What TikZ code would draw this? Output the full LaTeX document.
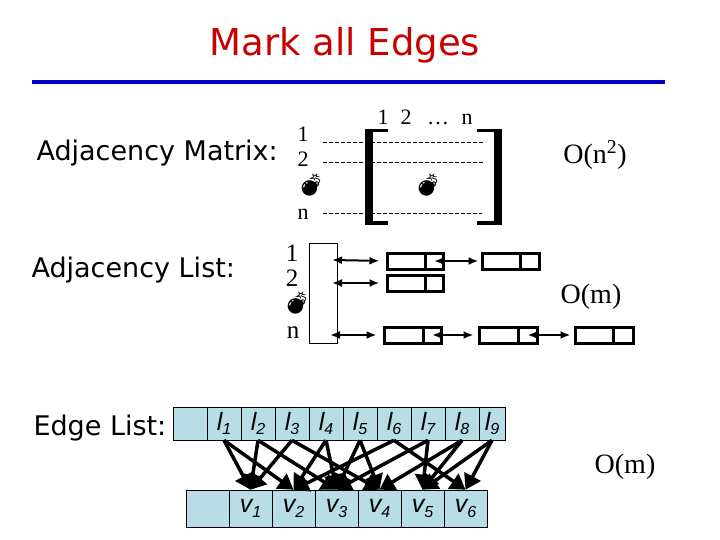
\documentclass[tikz,border=0pt]{standalone}
\usepackage{fontspec}
\setmainfont{Liberation Serif}
\setsansfont{DejaVu Sans}
\newfontfamily\arialfont{Liberation Sans}
\newfontfamily\emojifont{Noto Emoji}
\usetikzlibrary{arrows.meta,positioning}
\definecolor{titlered}{RGB}{200,0,0}
\definecolor{ruleblue}{RGB}{0,0,200}
\definecolor{cellblue}{RGB}{183,221,230}
\newcommand{\bomb}{{\emojifont\fontsize{22}{22}\selectfont 💣}}
\newcommand{\lsub}[2]{#1\raisebox{-0.35ex}{\fontsize{16}{16}\selectfont #2}}
\tikzset{
  heading/.style={anchor=west, font=\sffamily\fontsize{27}{30}\selectfont},
  idx/.style={inner sep=0pt, anchor=base, font=\fontsize{22}{24}\selectfont},
  lidx/.style={inner sep=0pt, font=\fontsize{25}{27}\selectfont},
  cost/.style={inner sep=0pt, font=\fontsize{28}{30}\selectfont},
  mdash/.style={line width=0.9pt, dash pattern=on 4pt off 2pt},
  lnode/.style={draw, line width=3pt, minimum height=16pt, inner sep=0pt},
  dlink/.style={line width=2pt, {Latex[length=10pt,width=8pt]}-{Latex[length=10pt,width=8pt]}},
  ecell/.style={draw, line width=0.6pt, fill=cellblue, minimum width=34pt, minimum height=33pt, inner sep=0pt, font=\arialfont\itshape\fontsize{25}{27}\selectfont},
  vcell/.style={draw, line width=0.6pt, fill=cellblue, minimum width=43pt, minimum height=37pt, inner sep=0pt, font=\arialfont\itshape\fontsize{25}{27}\selectfont},
  incid/.style={line width=3.5pt, -{Triangle[length=15pt,width=18pt]}}
}
\begin{document}
\begin{tikzpicture}[x=1pt,y=-1pt]
\useasboundingbox (0,0) rectangle (720,540);

% title
\node[font=\sffamily\fontsize{37}{40}\selectfont, text=titlered] (title) at (345,45) {Mark all Edges};
\coordinate (ruleL) at (32,82);
\coordinate (ruleR) at (665,82);
\draw[ruleblue, line width=3.5pt] (ruleL)--(ruleR);

% adjacency matrix
\node[heading] (amat) at (33,153) {Adjacency Matrix:};
\node[idx] (m1) at (303,142) {1};
\node[idx] (m2) at (303,167) {2};
\node[inner sep=0pt] (mdots) at (311,185) {\bomb};
\node[idx] (mn) at (303,219) {n};
\node[idx] (c1) at (383,125) {1};
\node[idx] (c2) at (406,125) {2};
\node[idx] (cdots) at (438,125) {\dots};
\node[idx] (cn) at (467,125) {n};
\node[inner sep=0pt] (inner) at (428,185) {\bomb};
\coordinate (d1s) at (323,142);
\coordinate (d1e) at (485,142);
\coordinate (d2s) at (323,162);
\coordinate (d2e) at (483,162);
\coordinate (dns) at (323,213);
\coordinate (dne) at (482,213);
\draw[mdash] (d1s)--(d1e);
\draw[mdash] (d2s)--(d2e);
\draw[mdash] (dns)--(dne);
\fill (365,129) rectangle (373,225);
\fill (365,129) rectangle (388,132.5);
\fill (365,221.5) rectangle (388,225);
\fill (494,129) rectangle (502,225);
\fill (477,129) rectangle (502,132.5);
\fill (477,221.5) rectangle (502,225);
\node[cost] (omat) at (595,155) {O(n\textsuperscript{2})};

% adjacency list
\node[heading] (alist) at (28,270) {Adjacency List:};
\node[lidx] (a1) at (292,253) {1};
\node[lidx] (a2) at (292,278) {2};
\node[inner sep=0pt] (adots) at (297,303) {\bomb};
\node[lidx] (an) at (293,333) {n};
\node[draw, line width=0.8pt, minimum width=28pt, minimum height=100pt] (arr) at (323,293) {};
\coordinate (r1) at (332,260);
\coordinate (r2) at (332,283);
\coordinate (rn) at (330,335);

\node[lnode, minimum width=38pt] (p1) at (406,261) {};
\node[lnode, minimum width=18pt] (p1n) at (434,261) {};
\node[lnode, minimum width=38pt] (q1) at (501,261) {};
\node[lnode, minimum width=19pt] (q1n) at (529.5,261) {};
\node[lnode, minimum width=38pt] (p2) at (406,283) {};
\node[lnode, minimum width=18pt] (p2n) at (434,283) {};
\node[lnode, minimum width=39pt] (pn) at (403.5,335) {};
\node[lnode, minimum width=18pt] (pnn) at (432,335) {};
\node[lnode, minimum width=39pt] (qn) at (498.5,335) {};
\node[lnode, minimum width=19pt] (qnn) at (527.5,335) {};
\node[lnode, minimum width=38pt] (sn) at (594,335) {};
\node[lnode, minimum width=20pt] (snn) at (623,335) {};

\draw[dlink, shorten >=6pt] (r1)--(p1.west);
\draw[dlink, shorten >=2pt] (p1n.center)--(q1.west);
\draw[dlink, shorten >=6pt] (r2)--(p2.west);
\draw[dlink, shorten >=6pt] (rn)--(pn.west);
\draw[dlink, shorten >=4pt] (pnn.center)--(qn.west);
\draw[dlink, shorten >=3pt] (qnn.center)--(sn.west);
\node[cost] (olist) at (591,297) {O(m)};

% edge list
\node[heading] (elist) at (30,428) {Edge List:};
\node[ecell] (l0) at (190,423.5) {};
\node[ecell] (l1) at (224,423.5) {\lsub{l}{1}};
\node[ecell] (l2) at (258,423.5) {\lsub{l}{2}};
\node[ecell] (l3) at (292,423.5) {\lsub{l}{3}};
\node[ecell] (l4) at (326,423.5) {\lsub{l}{4}};
\node[ecell] (l5) at (360,423.5) {\lsub{l}{5}};
\node[ecell] (l6) at (394,423.5) {\lsub{l}{6}};
\node[ecell] (l7) at (428,423.5) {\lsub{l}{7}};
\node[ecell] (l8) at (462,423.5) {\lsub{l}{8}};
\node[ecell, minimum width=26pt] (l9) at (492,423.5) {\lsub{l}{9}};

\node[vcell] (v0) at (207.5,508.5) {};
\node[vcell] (v1) at (250.5,508.5) {\lsub{v}{1}};
\node[vcell] (v2) at (293.5,508.5) {\lsub{v}{2}};
\node[vcell] (v3) at (336.5,508.5) {\lsub{v}{3}};
\node[vcell] (v4) at (379.5,508.5) {\lsub{v}{4}};
\node[vcell] (v5) at (422.5,508.5) {\lsub{v}{5}};
\node[vcell] (v6) at (465.5,508.5) {\lsub{v}{6}};

\draw[incid] (l1.south)--(v1.north);
\draw[incid] (l1.south)--(v2.north);
\draw[incid] (l2.south)--(v1.north);
\draw[incid] (l2.south)--(v3.north);
\draw[incid] (l3.south)--(v1.north);
\draw[incid] (l3.south)--(v4.north);
\draw[incid] (l4.south)--(v2.north);
\draw[incid] (l4.south)--(v3.north);
\draw[incid] (l5.south)--(v3.north);
\draw[incid] (l5.south)--(v4.north);
\draw[incid] (l6.south)--(v2.north);
\draw[incid] (l6.south)--(v6.north);
\draw[incid] (l7.south)--(v3.north);
\draw[incid] (l7.south)--(v5.north);
\draw[incid] (l8.south)--(v4.north);
\draw[incid] (l8.south)--(v5.north);
\draw[incid] (l9.south)--(v5.north);
\draw[incid] (l9.south)--(v6.north);
\node[cost] (oedge) at (625,467) {O(m)};
\end{tikzpicture}
\end{document}
